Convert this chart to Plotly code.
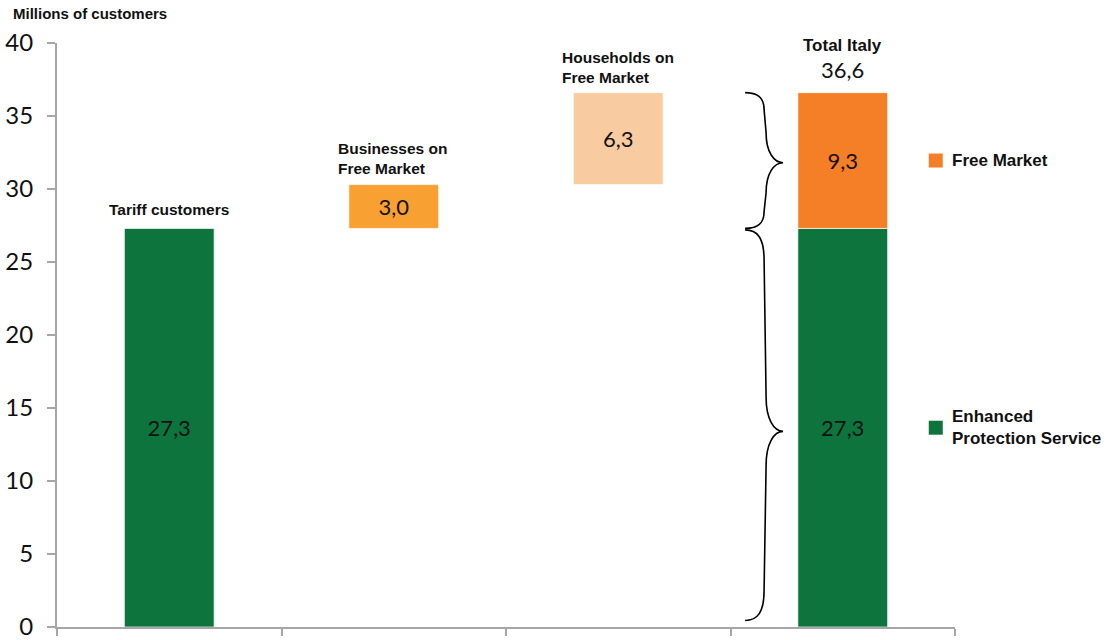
import plotly.graph_objects as go

# Customer counts, millions
categories = ["Tariff customers", "Businesses on<br>Free Market", "Households on<br>Free Market", "Total Italy"]
tariff = 27.3
businesses_free = 3.0
households_free = 6.3
free_market_total = round(businesses_free + households_free, 1)
total_italy = round(tariff + free_market_total, 1)

y_ticks = [0, 5, 10, 15, 20, 25, 30, 35, 40]

GREEN = "#0E743E"
ORANGE_BUS = "#F8A031"
PEACH = "#F9CBA0"
ORANGE_FM = "#F47F26"


def fmt(v):
    return f"{v:.1f}".replace(".", ",")


NUM_FONT = dict(family="Lato, Open Sans, sans-serif", size=22, color="#111111")
BOLD = "Liberation Sans, Arial, sans-serif"

bar_w = 0.4
edge = dict(color="rgba(255,255,255,0.7)", width=1)

fig = go.Figure()
fig.add_trace(go.Bar(
    x=[0, 3], y=[tariff, tariff], base=[0, 0], width=bar_w,
    marker=dict(color=GREEN, line=edge),
    text=[fmt(tariff), fmt(tariff)], textposition="inside", insidetextanchor="middle",
    textfont=NUM_FONT, name="Enhanced Protection Service",
))
fig.add_trace(go.Bar(
    x=[1], y=[businesses_free], base=[tariff], width=bar_w,
    marker=dict(color=ORANGE_BUS, line=edge),
    text=[fmt(businesses_free)], textposition="inside", insidetextanchor="middle",
    textfont=NUM_FONT, name="Businesses on Free Market",
))
fig.add_trace(go.Bar(
    x=[2], y=[households_free], base=[tariff + businesses_free], width=bar_w,
    marker=dict(color=PEACH, line=edge),
    text=[fmt(households_free)], textposition="inside", insidetextanchor="middle",
    textfont=NUM_FONT, name="Households on Free Market",
))
fig.add_trace(go.Bar(
    x=[3], y=[free_market_total], base=[tariff], width=bar_w,
    marker=dict(color=ORANGE_FM, line=edge),
    text=[fmt(free_market_total)], textposition="inside", insidetextanchor="middle",
    textfont=NUM_FONT, name="Free Market",
))

# Category labels above each bar
lbl_font = dict(family=BOLD, size=15.5, color="#111111", weight="bold")
tops = [tariff, tariff + businesses_free, total_italy, total_italy]
annotations = [
    dict(x=0, y=tops[0], text=categories[0], xanchor="center", yanchor="bottom", yshift=8,
         showarrow=False, font=lbl_font),
    dict(x=1 - bar_w / 2, y=tops[1], text=categories[1], xanchor="left", yanchor="bottom",
         xshift=-13, yshift=6, align="left", showarrow=False, font=lbl_font),
    dict(x=2 - bar_w / 2, y=tops[2], text=categories[2], xanchor="left", yanchor="bottom",
         xshift=-13, yshift=5, align="left", showarrow=False, font=lbl_font),
    dict(x=3, y=total_italy, text=fmt(total_italy), xanchor="center", yanchor="bottom", yshift=8,
         showarrow=False, font=NUM_FONT),
    dict(x=3, y=total_italy, text=categories[3], xanchor="center", yanchor="bottom", yshift=36,
         showarrow=False, font=dict(family=BOLD, size=17, color="#111111", weight="bold")),
    dict(xref="paper", yref="paper", x=0, y=1, text="Millions of customers", xanchor="left",
         yanchor="bottom", xshift=-46, yshift=19, showarrow=False,
         font=dict(family=BOLD, size=15, color="#111111", weight="bold")),
]

# Legend entries beside the segments of the total bar
legend_font = dict(family=BOLD, size=17, color="#111111", weight="bold")
fm_mid = tariff + free_market_total / 2
eps_mid = tariff / 2
shapes = []
for mid, col, txt in [(fm_mid, ORANGE_FM, "Free Market"),
                      (eps_mid, GREEN, "Enhanced<br>Protection Service")]:
    shapes.append(dict(type="rect", xref="x", yref="y", xsizemode="pixel", ysizemode="pixel",
                       xanchor=3, yanchor=mid, x0=86, x1=100, y0=-7, y1=7,
                       fillcolor=col, line=dict(width=0)))
    annotations.append(dict(x=3, y=mid, text=txt, xanchor="left", yanchor="middle", xshift=107,
                            align="left", showarrow=False, font=legend_font))

# Curly braces to the left of the total bar (sizes in pixels, converted to axis units)
PX_X = 224.5  # pixels per x unit
PX_Y = 14.6   # pixels per y unit


def brace(ytop, ybot, ymid, x0=2.565, end_px=17, tip_px=30):
    x1 = x0 + 19 / PX_X
    x2 = x0 + 38 / PX_X
    e = end_px / PX_Y
    t = tip_px / PX_Y
    return (f"M {x0},{ytop} "
            f"C {x0 + 12 / PX_X},{ytop} {x1},{ytop - 0.25 * e} {x1},{ytop - e} "
            f"L {x1 + 2 / PX_X},{ymid + t} "
            f"C {x1 + 2 / PX_X},{ymid + 0.35 * t} {x2 - 9 / PX_X},{ymid} {x2},{ymid} "
            f"C {x2 - 9 / PX_X},{ymid} {x1 + 2 / PX_X},{ymid - 0.35 * t} {x1 + 2 / PX_X},{ymid - t} "
            f"L {x1},{ybot + e} "
            f"C {x1},{ybot + 0.25 * e} {x0 + 12 / PX_X},{ybot} {x0},{ybot}")


shapes.append(dict(type="path", xref="x", yref="y", path=brace(total_italy, tariff, 31.8),
                   line=dict(color="black", width=1.6)))
shapes.append(dict(type="path", xref="x", yref="y",
                   path=brace(tariff - 0.1, 0.45, 13.4, end_px=30, tip_px=34),
                   line=dict(color="black", width=1.6)))

fig.update_layout(
    width=1109, height=640,
    margin=dict(l=57, r=154, t=43, b=13),
    paper_bgcolor="white", plot_bgcolor="white",
    showlegend=False, barmode="overlay",
    annotations=annotations, shapes=shapes,
    xaxis=dict(range=[-0.5, 3.5], tickmode="array", tickvals=[-0.5, 0.5, 1.5, 2.5, 3.5],
               showticklabels=False, ticks="outside", ticklen=7, tickcolor="#A6A6A6",
               tickwidth=1.5, showline=True, linecolor="#A6A6A6", linewidth=2,
               showgrid=False, zeroline=False, automargin=False),
    yaxis=dict(range=[0, 40], tickmode="array", tickvals=y_ticks, ticks="outside", ticklen=8,
               tickcolor="#A6A6A6", tickwidth=1.5, showline=True, linecolor="#A6A6A6",
               linewidth=2, showgrid=False, zeroline=False, automargin=False,
               ticklabelstandoff=9, ticklabeloverflow="allow",
               tickfont=dict(family="Lato, Open Sans, sans-serif", size=24, color="#111111")),
)

fig.write_html("out.html")
